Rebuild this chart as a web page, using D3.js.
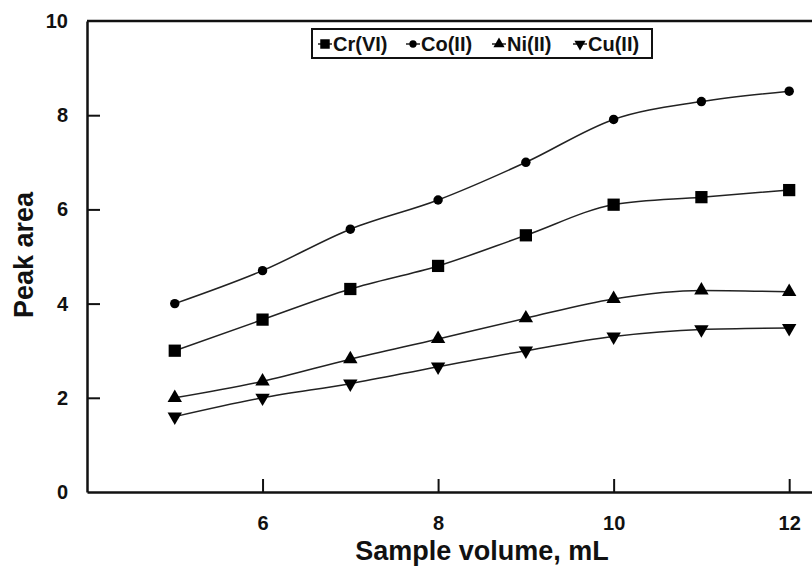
<!DOCTYPE html>
<html lang="en">
<head>
  <meta charset="UTF-8" />
  <title>Peak area vs sample volume</title>
  <script src="https://d3js.org/d3.v7.min.js"></script>
  <style>
    html, body { margin: 0; background: #fff; }
    svg { display: block; font-family: "Liberation Sans", Arial, sans-serif; }
    .tick text { font-size: 20px; font-weight: bold; fill: #111; }
    .series { fill: none; stroke: #222; stroke-width: 1.5; }
  </style>
</head>
<body>
  <svg id="chart" width="812" height="573"></svg>
  <script>
    // data
    const volumes = [5, 6, 7, 8, 9, 10, 11, 12];
    const crVI = [3.0, 3.66, 4.31, 4.8, 5.45, 6.1, 6.26, 6.41];
    const coII = [4.0, 4.7, 5.58, 6.2, 7.0, 7.91, 8.29, 8.51];
    const niII = [2.0, 2.35, 2.82, 3.25, 3.69, 4.1, 4.28, 4.25];
    const cuII = [1.6, 2.0, 2.3, 2.66, 3.0, 3.3, 3.45, 3.48];
    const xTicks = [6, 8, 10, 12];
    const yTicks = [0, 2, 4, 6, 8, 10];

    const series = [
      { name: "Cr(VI)", values: crVI, symbol: d3.symbolSquare, size: 150 },
      { name: "Co(II)", values: coII, symbol: d3.symbolCircle, size: 70 },
      { name: "Ni(II)", values: niII, symbol: d3.symbolTriangle, size: 90, rot: 0 },
      { name: "Cu(II)", values: cuII, symbol: d3.symbolTriangle, size: 90, rot: 180 }
    ];

    const svg = d3.select("#chart");
    const plotL = 87, plotR = 812, plotT = 21, plotB = 492;

    const x = d3.scaleLinear().domain([4, 12.26]).range([plotL, plotR]);
    const y = d3.scaleLinear().domain([0, 10]).range([plotB, plotT]);

    // axes, ticks point inward
    const xAxis = d3.axisBottom(x).tickValues(xTicks).tickSizeInner(-13).tickSizeOuter(0).tickPadding(24);
    const gx = svg.append("g").attr("transform", `translate(0,${plotB})`).call(xAxis);
    const yAxis = d3.axisLeft(y).tickValues(yTicks).tickSizeInner(-13).tickSizeOuter(0).tickPadding(19);
    const gy = svg.append("g").attr("transform", `translate(${plotL},0)`).call(yAxis);
    [gx, gy].forEach(g => {
      g.select(".domain").attr("stroke", "#111").attr("stroke-width", 2.5);
      g.selectAll(".tick line").attr("stroke", "#111").attr("stroke-width", 2);
    });
    gy.selectAll(".tick").filter(d => d === 0 || d === 10).select("line").remove();

    // top frame line
    svg.append("line")
      .attr("x1", plotL).attr("x2", plotR).attr("y1", plotT).attr("y2", plotT)
      .attr("stroke", "#111").attr("stroke-width", 2.5);

    // axis titles
    svg.append("text")
      .attr("x", 482).attr("y", 560)
      .attr("text-anchor", "middle")
      .style("font-size", "27px").style("font-weight", "bold").attr("fill", "#111")
      .text("Sample volume, mL");
    svg.append("text")
      .attr("transform", "translate(33,255) rotate(-90)")
      .attr("text-anchor", "middle")
      .style("font-size", "27px").style("font-weight", "bold").attr("fill", "#111")
      .text("Peak area");

    const line = d3.line()
      .x((d, i) => x(volumes[i]))
      .y(d => y(d))
      .curve(d3.curveMonotoneX);

    series.forEach(s => {
      svg.append("path").attr("class", "series").attr("d", line(s.values));
      svg.append("g").selectAll("path")
        .data(s.values)
        .join("path")
        .attr("d", d3.symbol().type(s.symbol).size(s.size))
        .attr("transform", (d, i) => `translate(${x(volumes[i])},${y(d)}) rotate(${s.rot || 0})`)
        .attr("fill", "#000");
    });

    // legend
    const lg = svg.append("g");
    lg.append("rect")
      .attr("x", 312).attr("y", 29).attr("width", 340).attr("height", 29)
      .attr("fill", "#fff").attr("stroke", "#111").attr("stroke-width", 2);
    const legendX = [325, 413, 499, 580];
    series.forEach((s, i) => {
      const cx = legendX[i];
      lg.append("line")
        .attr("x1", cx - 7).attr("x2", cx + 7).attr("y1", 44).attr("y2", 44)
        .attr("stroke", "#222").attr("stroke-width", 1.5);
      lg.append("path")
        .attr("d", d3.symbol().type(s.symbol).size(s.size * 0.6))
        .attr("transform", `translate(${cx},44) rotate(${s.rot || 0})`)
        .attr("fill", "#000");
      lg.append("text")
        .attr("x", cx + 8).attr("y", 51)
        .style("font-size", "20px").style("font-weight", "bold").attr("fill", "#111")
        .text(s.name);
    });
  </script>
</body>
</html>
